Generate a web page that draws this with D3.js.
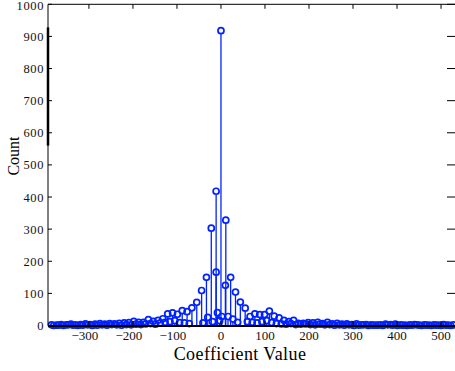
<!DOCTYPE html>
<html><head><meta charset="utf-8">
<script src="https://cdn.jsdelivr.net/npm/d3@7"></script>
<style>html,body{margin:0;padding:0;background:#fff;}svg{display:block;}
text{font-family:"Liberation Serif","DejaVu Serif",serif;}</style>
</head><body>
<script>
// Main stems (coefficient value, count)
const coefMain = [-385,-374,-363,-352,-341,-330,-319,-308,-297,-286,-275,-264,-253,-242,-231,-220,-209,
  -198,-187,-176,-165,-154,-143,-132,-121,-110,-99,-88,-77,-66,-55,-44,-33,-22,-11,0,
  11,22,33,44,55,66,77,88,99,110,121,132,143,154,165,176,187,198,209,220,231,242,253,264,275,286,297,
  308,319,330,341,352,363,374,385,396,407,418,429,440,451,462,473,484,495,506,517,528];
const countMain = [2,1,3,2,4,2,3,5,3,4,6,4,6,5,7,8,9,
  13,10,10,18,13,16,21,36,39,35,46,43,55,72,109,150,303,418,918,
  328,150,104,73,54,28,36,34,34,45,29,24,16,12,16,7,7,9,8,10,6,10,5,7,4,5,3,
  5,2,3,2,1,2,4,3,4,2,1,2,3,1,2,1,2,1,3,1,2];
// Secondary stems close to zero
const coefMinor = [-41,-30,-19,-11,-8,-3,2,10,16,27,38,60];
const countMinor = [8,25,12,166,40,15,28,125,28,20,10,12];
// Low counts between the main stems
const coefLowNeg = [-380,-369,-358,-347,-336,-325,-314,-303,-292,-281,-270,-259,-248,-237,-226,-215,-204,-193,-182,-171,
  -160,-149,-138,-127,-116,-105,-94,-83,-72];
const countLowNeg = [0,1,0,2,1,0,1,2,0,1,2,1,3,2,1,3,2,4,3,5,6,4,8,10,12,15,9,8,6];
const coefLowPos = [71,82,93,104,115,126,137,148,159,170,181,192,203,214,225,236,247,258,269,280,
  291,302,313,324,335,346,357,368,379,390,401,412,423,434,445,456,467,478,489,500,511,522];
const countLowPos = [10,8,12,15,9,6,5,4,6,3,4,5,3,2,4,2,3,1,2,1,2,0,1,2,0,1,1,0,2,1,0,1,0,1,2,0,1,0,1,0,1,0];
const yTicks = [0,100,200,300,400,500,600,700,800,900,1000];
const xTicks = [-300,-200,-100,0,100,200,300,400,500];
const xLabel = "Coefficient Value";
const yLabel = "Count";

const W = 455, H = 371;
const blue = "#0022ff";
const svg = d3.select("body").append("svg").attr("width", W).attr("height", H);
svg.append("rect").attr("width", W).attr("height", H).attr("fill", "#fff");

const x = d3.scaleLinear().domain([-393, 534]).range([48, 456]);
const y = d3.scaleLinear().domain([0, 1000]).range([325.5, 4.3]);

const pairs = (cs, vs) => cs.map((c, i) => ({c, v: vs[i]}));
const pts = pairs(coefLowNeg, countLowNeg)
  .concat(pairs(coefLowPos, countLowPos))
  .concat(pairs(coefMain, countMain))
  .concat(pairs(coefMinor, countMinor));
const r = 3;

const g = svg.append("g");
g.selectAll("line.stem").data(pts.filter(d => d.v > 9)).join("line")
  .attr("class", "stem")
  .attr("x1", d => x(d.c)).attr("x2", d => x(d.c))
  .attr("y1", y(0)).attr("y2", d => y(d.v) + r)
  .attr("stroke", blue).attr("stroke-width", 1.3);
g.selectAll("circle").data(pts).join("circle")
  .attr("cx", d => x(d.c)).attr("cy", d => y(d.v)).attr("r", r)
  .attr("fill", "none").attr("stroke", blue).attr("stroke-width", 1.7);

// frame / axes
const ax = svg.append("g").attr("stroke", "#000").attr("fill", "none");
const x0 = x.range()[0], x1 = x.range()[1];
ax.append("line").attr("x1", x0).attr("x2", x0).attr("y1", y(1000)).attr("y2", y(0)).attr("stroke-width", 1);
ax.append("line").attr("x1", x0).attr("x2", x0).attr("y1", y(928)).attr("y2", y(560)).attr("stroke-width", 2.5);
ax.append("line").attr("x1", x0).attr("x2", x1).attr("y1", y(1000)).attr("y2", y(1000)).attr("stroke-width", 1);
ax.append("line").attr("x1", x0).attr("x2", x1).attr("y1", y(0) + 0.5).attr("y2", y(0) + 0.5).attr("stroke-width", 2);
ax.append("line").attr("x1", x1).attr("x2", x1).attr("y1", y(1000)).attr("y2", y(0)).attr("stroke-width", 1);

yTicks.forEach(t => {
  ax.append("line").attr("x1", x0).attr("x2", x0 + 4).attr("y1", y(t)).attr("y2", y(t));
  ax.append("line").attr("x1", x1 - 9).attr("x2", x1).attr("y1", y(t)).attr("y2", y(t));
});
xTicks.forEach(t => {
  ax.append("line").attr("x1", x(t)).attr("x2", x(t)).attr("y1", y(1000)).attr("y2", y(1000) + 4.5);
  ax.append("line").attr("x1", x(t)).attr("x2", x(t)).attr("y1", y(0)).attr("y2", y(0) - 4.5);
});

svg.append("g").selectAll("text").data(yTicks).join("text")
  .attr("x", x0 - 4).attr("y", d => y(d) + (d === 1000 ? 1.5 : 0)).attr("dy", "0.36em")
  .attr("text-anchor", "end").attr("font-size", 12.5).attr("letter-spacing", 0.6).attr("fill", "#111")
  .text(d => d);
svg.append("g").selectAll("text").data(xTicks).join("text")
  .attr("x", d => x(d) - (d < 0 ? 4 : 0)).attr("y", 340)
  .attr("text-anchor", "middle").attr("font-size", 13).attr("fill", "#111")
  .text(d => d < 0 ? "\u2212" + Math.abs(d) : d);

svg.append("text").attr("x", 240).attr("y", 360).attr("text-anchor", "middle")
  .attr("font-size", 18).attr("letter-spacing", 0.4).attr("fill", "#000").text(xLabel);
svg.append("text").attr("transform", "translate(19,156) rotate(-90)").attr("text-anchor", "middle")
  .attr("font-size", 16).attr("fill", "#000").text(yLabel);
</script>
</body></html>
